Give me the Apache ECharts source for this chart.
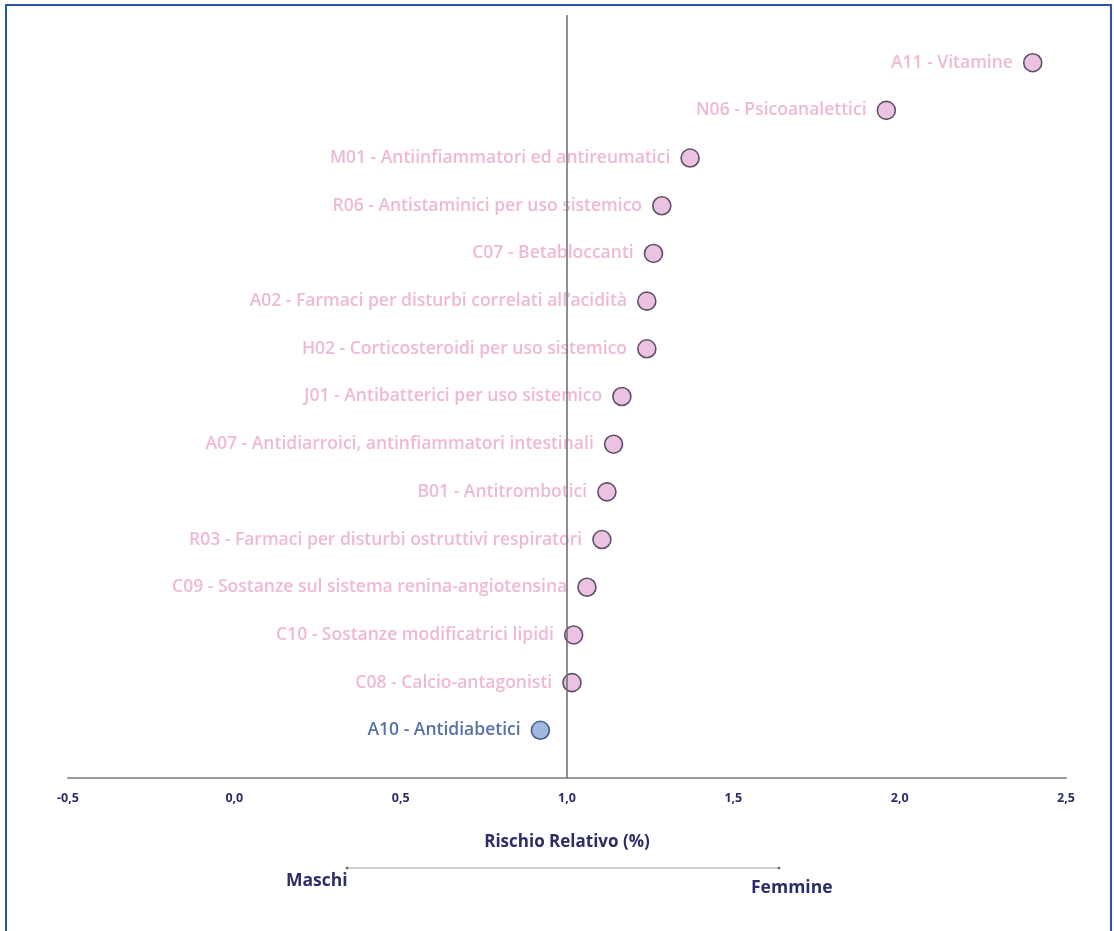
<!DOCTYPE html>
<html>
<head>
<meta charset="utf-8">
<script src="https://cdn.jsdelivr.net/npm/echarts@6/dist/echarts.min.js"></script>
<style>
html,body{margin:0;padding:0;background:#fff;}
#frame{position:absolute;left:5px;top:4px;width:1107px;height:940px;border:2px solid #2b55a8;box-sizing:border-box;}
#chart{position:absolute;left:0;top:0;width:1114px;height:931px;}
</style>
</head>
<body>
<div id="frame"></div>
<div id="chart"></div>
<script>
// Categories from bottom (row 0) to top
const categories = [
  "A10 - Antidiabetici",
  "C08 - Calcio-antagonisti",
  "C10 - Sostanze modificatrici lipidi",
  "C09 - Sostanze sul sistema renina-angiotensina",
  "R03 - Farmaci per disturbi ostruttivi respiratori",
  "B01 - Antitrombotici",
  "A07 - Antidiarroici, antinfiammatori intestinali",
  "J01 - Antibatterici per uso sistemico",
  "H02 - Corticosteroidi per uso sistemico",
  "A02 - Farmaci per disturbi correlati all\u2019acidit\u00e0",
  "C07 - Betabloccanti",
  "R06 - Antistaminici per uso sistemico",
  "M01 - Antiinfiammatori ed antireumatici",
  "N06 - Psicoanalettici",
  "A11 - Vitamine"
];
const riskValues = [0.92, 1.015, 1.02, 1.06, 1.105, 1.12, 1.14, 1.165, 1.24, 1.24, 1.26, 1.285, 1.37, 1.96, 2.40];
// group: 'M' = maschi (blue), 'F' = femmine (pink)
const groups = ["M","F","F","F","F","F","F","F","F","F","F","F","F","F","F"];
const xTicks = [-0.5, 0.0, 0.5, 1.0, 1.5, 2.0, 2.5];
const axisTitle = "Rischio Relativo (%)";
const leftLabel = "Maschi";
const rightLabel = "Femmine";

const pinkFill = "#e6b3da", pinkText = "#eaa6cc", pinkBorder = "#3a2c48";
const blueFill = "#8aa6dc", blueText = "#2b4d95", blueBorder = "#24407e";
const navy = "#2b2d6b";
const FONT = "Open Sans";

const data = riskValues.map((v, i) => {
  const m = groups[i] === "M";
  return {
    value: [v, i],
    name: categories[i],
    itemStyle: { color: m ? blueFill : pinkFill, borderColor: m ? blueBorder : pinkBorder, borderWidth: 1.6 },
    label: { color: m ? blueText : pinkText }
  };
});

const chart = echarts.init(document.getElementById('chart'), null, {renderer: 'canvas'});
chart.setOption({
  animation: false,
  backgroundColor: 'transparent',
  grid: { left: 68, right: 48, top: 15, bottom: 153 },
  xAxis: {
    type: 'value', min: -0.5, max: 2.5, interval: 0.5,
    axisLine: { show: true, onZero: false, lineStyle: { color: '#9a9a9a', width: 2 } },
    axisTick: { show: false },
    splitLine: { show: false },
    axisLabel: {
      margin: 14, color: navy, fontFamily: FONT, fontWeight: 700, fontSize: 12.5,
      formatter: v => xTicks.includes(Math.round(v*10)/10) ? v.toFixed(1).replace('.', ',') : ''
    },
    name: axisTitle, nameLocation: 'middle', nameGap: 56,
    nameTextStyle: { color: navy, fontFamily: FONT, fontWeight: 700, fontSize: 17 }
  },
  yAxis: {
    type: 'value', min: -1, max: 15, show: false
  },
  series: [{
    type: 'scatter',
    symbol: 'circle',
    symbolSize: 18,
    data: data,
    label: {
      show: true, position: 'left', distance: 10,
      formatter: p => p.name,
      fontFamily: FONT, fontWeight: 600, fontSize: 17.5
    },
    markLine: {
      silent: true, symbol: 'none', label: { show: false },
      lineStyle: { color: '#6a6a6a', width: 1.5, type: 'solid' },
      data: [{ xAxis: 1.0 }]
    },
    z: 3
  }],
  graphic: [
    { type: 'line', shape: { x1: 347, y1: 868, x2: 779, y2: 868 }, style: { stroke: '#a0a0a0', lineWidth: 1 } },
    { type: 'circle', shape: { cx: 347, cy: 868, r: 1.5 }, style: { fill: '#777' } },
    { type: 'circle', shape: { cx: 779, cy: 868, r: 1.5 }, style: { fill: '#777' } },
    { type: 'text', left: 286, top: 872, style: { text: leftLabel, fill: navy, font: '700 17.5px "Open Sans"' } },
    { type: 'text', left: 751, top: 879, style: { text: rightLabel, fill: navy, font: '700 17.5px "Open Sans"' } }
  ]
});
</script>
</body>
</html>
